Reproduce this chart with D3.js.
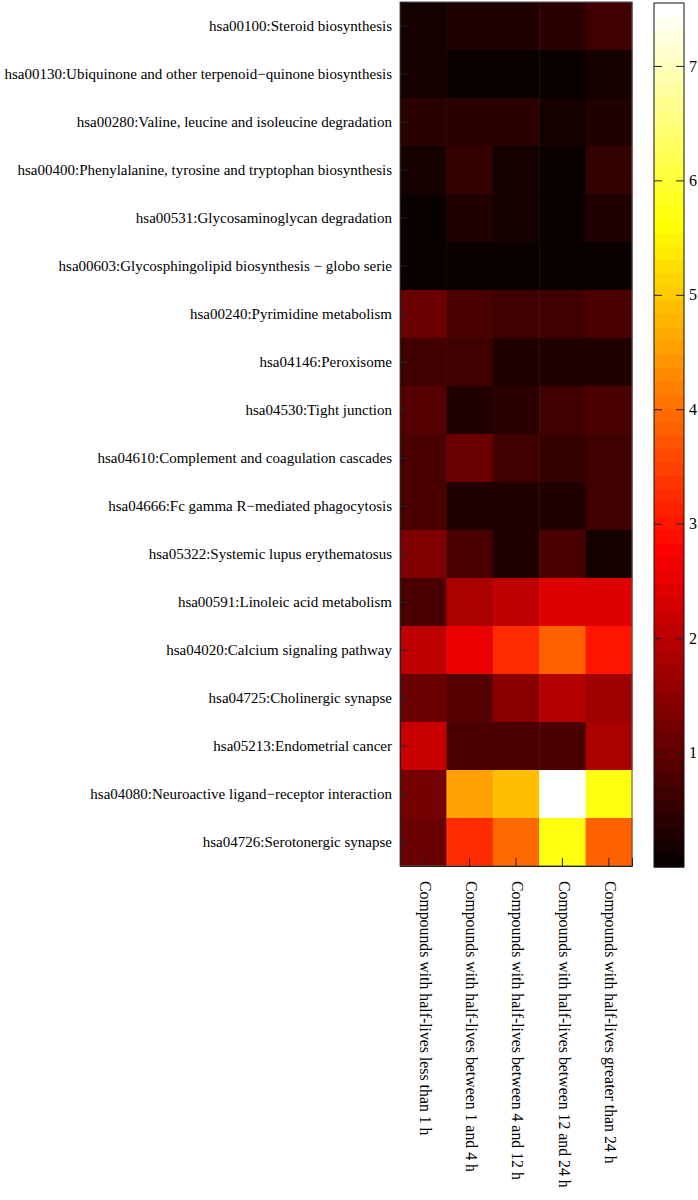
<!DOCTYPE html>
<html>
<head>
<meta charset="utf-8">
<script src="https://cdn.jsdelivr.net/npm/d3@7"></script>
<style>
  html, body { margin: 0; padding: 0; background: #fff; }
  svg { display: block; }
  text { font-family: "Liberation Serif", "Times New Roman", serif; fill: #000; }
</style>
</head>
<body>
<div id="chart"></div>
<script>
// ---------- data ----------
const pathways = [
  "hsa00100:Steroid biosynthesis",
  "hsa00130:Ubiquinone and other terpenoid\u2212quinone biosynthesis",
  "hsa00280:Valine, leucine and isoleucine degradation",
  "hsa00400:Phenylalanine, tyrosine and tryptophan biosynthesis",
  "hsa00531:Glycosaminoglycan degradation",
  "hsa00603:Glycosphingolipid biosynthesis \u2212 globo serie",
  "hsa00240:Pyrimidine metabolism",
  "hsa04146:Peroxisome",
  "hsa04530:Tight junction",
  "hsa04610:Complement and coagulation cascades",
  "hsa04666:Fc gamma R\u2212mediated phagocytosis",
  "hsa05322:Systemic lupus erythematosus",
  "hsa00591:Linoleic acid metabolism",
  "hsa04020:Calcium signaling pathway",
  "hsa04725:Cholinergic synapse",
  "hsa05213:Endometrial cancer",
  "hsa04080:Neuroactive ligand\u2212receptor interaction",
  "hsa04726:Serotonergic synapse"
];

const groups = [
  "Compounds with half-lives less than 1 h",
  "Compounds with half-lives between 1 and 4 h",
  "Compounds with half-lives between 4 and 12 h",
  "Compounds with half-lives between 12 and 24 h",
  "Compounds with half-lives greater than 24 h"
];

// one array per group (column), values in pathway order
const lessThan1h     = [0.23, 0.22, 0.47, 0.18, 0.11, 0.10, 1.07, 0.65, 0.89, 0.75, 0.73, 1.38, 0.80, 2.04, 1.11, 2.13, 1.20, 1.11];
const between1and4h  = [0.25, 0.09, 0.36, 0.53, 0.24, 0.10, 0.80, 0.62, 0.31, 1.11, 0.31, 0.80, 1.86, 2.57, 0.89, 0.80, 4.52, 3.19];
const between4and12h = [0.25, 0.09, 0.37, 0.22, 0.15, 0.10, 0.60, 0.27, 0.37, 0.67, 0.31, 0.33, 2.09, 3.19, 1.42, 0.80, 4.94, 3.94];
const between12and24h= [0.38, 0.08, 0.22, 0.09, 0.11, 0.10, 0.67, 0.27, 0.64, 0.53, 0.29, 0.82, 2.42, 3.83, 1.95, 0.80, 7.55, 5.75];
const greaterThan24h = [0.62, 0.20, 0.24, 0.49, 0.24, 0.10, 0.80, 0.25, 0.80, 0.67, 0.64, 0.18, 2.45, 3.01, 1.73, 1.78, 5.78, 3.82];

const columns = [lessThan1h, between1and4h, between4and12h, between12and24h, greaterThan24h];

const colorbarTicks = [1, 2, 3, 4, 5, 6, 7];
const colorMax = 7.55;

// ---------- colormap (MATLAB hot, 64 levels) ----------
function hotMap(m) {
  const n = Math.floor(3 / 8 * m);
  const out = [];
  for (let i = 0; i < m; i++) {
    const r = i < n ? (i + 1) / n : 1;
    const g = i < n ? 0 : (i < 2 * n ? (i - n + 1) / n : 1);
    const b = i < 2 * n ? 0 : (i - 2 * n + 1) / (m - 2 * n);
    out.push(d3.rgb(r * 255, g * 255, b * 255).formatHex());
  }
  return out;
}
const palette = hotMap(64);
const color = d3.scaleQuantize().domain([0, colorMax]).range(palette);

// ---------- layout ----------
const W = 698, H = 1200;
const hm = { left: 400, right: 632, top: 2, bottom: 866 };
const cb = { left: 654, right: 684, top: 3, bottom: 867 };

const svg = d3.select("#chart").append("svg").attr("width", W).attr("height", H);

const x = d3.scaleBand().domain(d3.range(groups.length)).range([hm.left, hm.right]);
const y = d3.scaleBand().domain(d3.range(pathways.length)).range([hm.top, hm.bottom]);

// cells
const cells = [];
columns.forEach((col, ci) => col.forEach((v, ri) => cells.push({ ci, ri, v })));
svg.append("g").selectAll("rect").data(cells).join("rect")
  .attr("x", d => x(d.ci))
  .attr("y", d => y(d.ri))
  .attr("width", x.bandwidth() + 0.5)
  .attr("height", y.bandwidth() + 0.5)
  .attr("fill", d => color(d.v));

// frame
svg.append("rect")
  .attr("x", hm.left).attr("y", hm.top)
  .attr("width", hm.right - hm.left).attr("height", hm.bottom - hm.top)
  .attr("fill", "none").attr("stroke", "#555").attr("stroke-width", 1);

// left axis (ticks inward)
const yAxisG = svg.append("g").attr("transform", `translate(${hm.left},0)`)
  .call(d3.axisLeft(y).tickSize(-8).tickFormat(""));
yAxisG.select(".domain").attr("stroke", "#222");
yAxisG.selectAll(".tick line").attr("stroke", "#222");

// row labels
svg.append("g").selectAll("text").data(pathways).join("text")
  .attr("x", 392)
  .attr("y", (d, i) => y(i) + y.bandwidth() / 2)
  .attr("dy", "0.35em")
  .attr("text-anchor", "end")
  .style("font-size", "15px")
  .text(d => d);

// bottom axis (ticks inward)
const xAxisG = svg.append("g").attr("transform", `translate(0,${hm.bottom})`)
  .call(d3.axisBottom(x).tickSize(-8).tickFormat(""));
xAxisG.select(".domain").attr("stroke", "#222");
xAxisG.selectAll(".tick line").attr("stroke", "#222");

// column labels (rotated)
svg.append("g").selectAll("text").data(groups).join("text")
  .attr("transform", (d, i) => `translate(${x(i) + x.bandwidth() / 2 + 2},881) rotate(90)`)
  .attr("dy", "0.35em")
  .attr("text-anchor", "start")
  .style("font-size", "15.8px")
  .text(d => d);

// ---------- colorbar ----------
const cy = d3.scaleLinear().domain([0, colorMax]).range([cb.bottom, cb.top]);
const step = colorMax / palette.length;
svg.append("g").selectAll("rect").data(palette).join("rect")
  .attr("x", cb.left)
  .attr("y", (d, i) => cy((i + 1) * step))
  .attr("width", cb.right - cb.left)
  .attr("height", (d, i) => cy(i * step) - cy((i + 1) * step) + 0.5)
  .attr("fill", d => d);

svg.append("rect")
  .attr("x", cb.left).attr("y", cb.top)
  .attr("width", cb.right - cb.left).attr("height", cb.bottom - cb.top)
  .attr("fill", "none").attr("stroke", "#111").attr("stroke-width", 1);

const cbAxisR = svg.append("g").attr("transform", `translate(${cb.right},0)`)
  .call(d3.axisRight(cy).tickValues(colorbarTicks).tickSize(-8).tickPadding(5).tickFormat(d3.format("d")));
cbAxisR.select(".domain").remove();
cbAxisR.selectAll(".tick line").attr("stroke", "#222");
cbAxisR.selectAll(".tick text")
  .style("font-family", "'Liberation Serif', 'Times New Roman', serif")
  .style("font-size", "16px").attr("fill", "#000");

const cbAxisL = svg.append("g").attr("transform", `translate(${cb.left},0)`)
  .call(d3.axisLeft(cy).tickValues(colorbarTicks).tickSize(-8).tickFormat(""));
cbAxisL.select(".domain").remove();
cbAxisL.selectAll(".tick line").attr("stroke", "#222");
</script>
</body>
</html>
